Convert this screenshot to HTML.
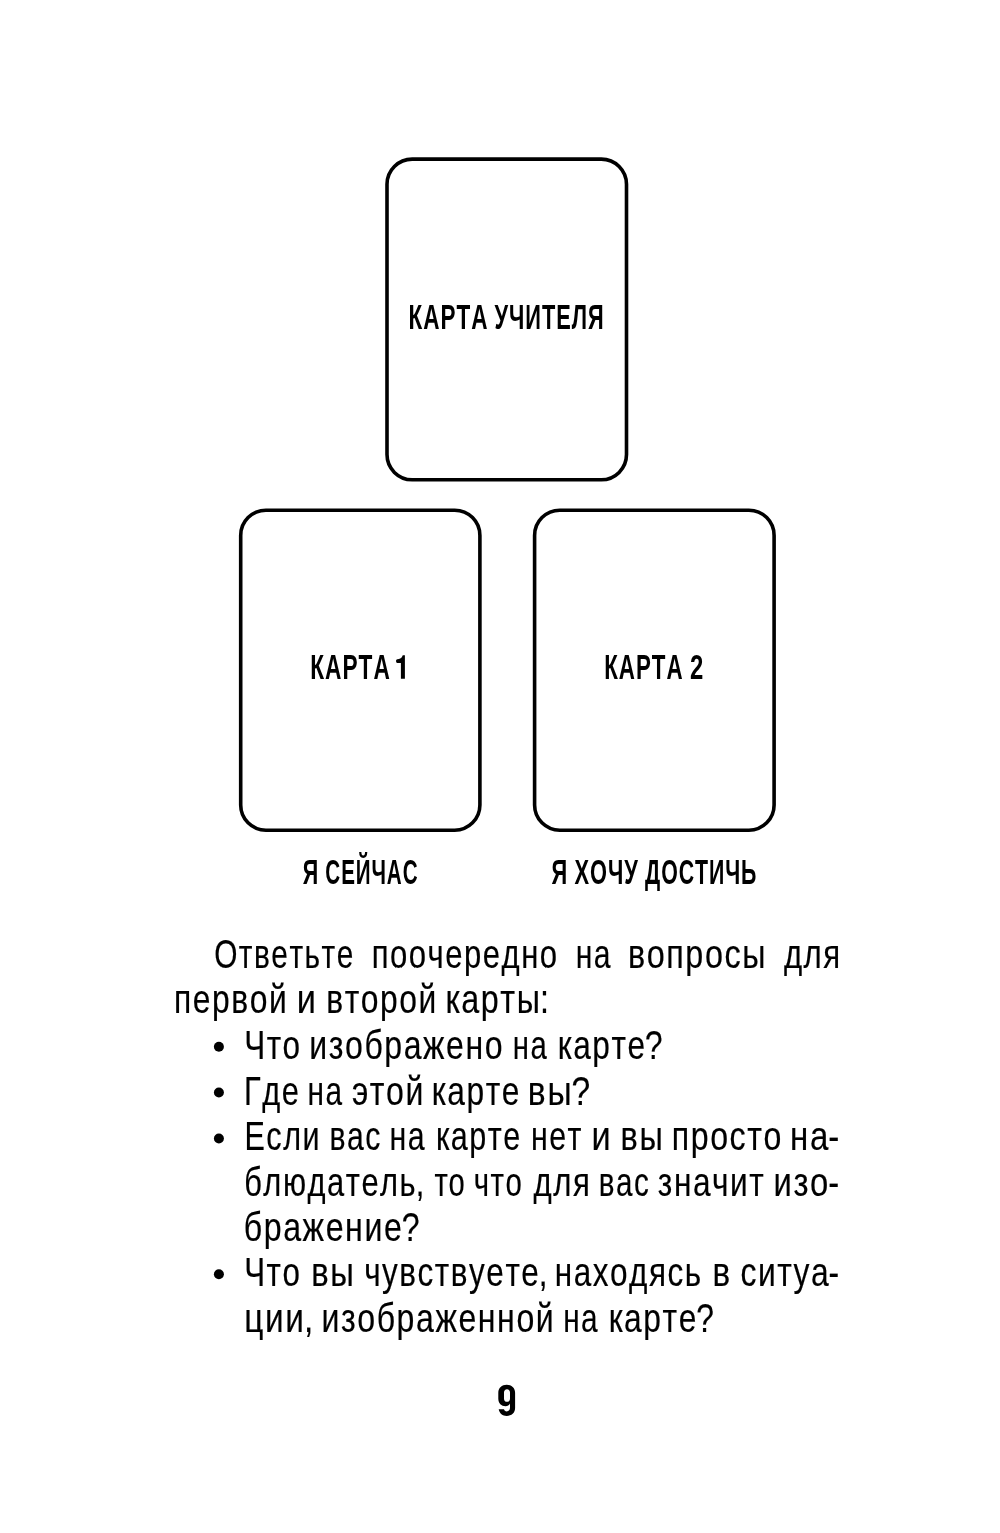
<!DOCTYPE html>
<html><head><meta charset="utf-8"><style>
html,body{margin:0;padding:0;background:#fff;}
body{width:1000px;height:1533px;overflow:hidden;}
svg{display:block;will-change:transform;}
text{font-family:"Liberation Sans",sans-serif;font-kerning:none;fill:#000;}
text.r{stroke:#000;stroke-width:0.2px;}
</style></head><body>
<svg width="1000" height="1533" viewBox="0 0 1000 1533">
<text class="r" transform="translate(214.19 967.50) scale(0.7369 1)" font-size="40.5" letter-spacing="2.000">Ответьте</text>
<text class="r" transform="translate(371.65 967.50) scale(0.7658 1)" font-size="40.5" letter-spacing="2.000">поочередно</text>
<text class="r" transform="translate(575.71 967.50) scale(0.7441 1)" font-size="40.5" letter-spacing="2.000">на</text>
<text class="r" transform="translate(627.96 967.50) scale(0.7975 1)" font-size="40.5" letter-spacing="2.000">вопросы</text>
<text class="r" transform="translate(783.90 967.50) scale(0.7687 1)" font-size="40.5" letter-spacing="2.000">для</text>
<text class="r" transform="translate(174.00 1013.30) scale(0.7846 1)" font-size="40.5" letter-spacing="2.000">первой</text>
<text class="r" transform="translate(296.82 1013.30) scale(0.8467 1)" font-size="40.5">и</text>
<text class="r" transform="translate(326.20 1013.30) scale(0.7843 1)" font-size="40.5" letter-spacing="2.000">второй</text>
<text class="r" transform="translate(445.52 1013.30) scale(0.7976 1)" font-size="40.5" letter-spacing="2.000">карт<tspan letter-spacing="0">ы:</tspan></text>
<text class="r" transform="translate(244.14 1058.70) scale(0.7768 1)" font-size="40.5" letter-spacing="2.000">Что</text>
<text class="r" transform="translate(309.28 1058.70) scale(0.7906 1)" font-size="40.5" letter-spacing="2.000">изображено</text>
<text class="r" transform="translate(512.87 1058.70) scale(0.7237 1)" font-size="40.5" letter-spacing="2.000">на</text>
<text class="r" transform="translate(557.87 1058.70) scale(0.7800 1)" font-size="40.5" letter-spacing="2.000">карт<tspan letter-spacing="0">е?</tspan></text>
<text class="r" transform="translate(244.07 1104.50) scale(0.7616 1)" font-size="40.5" letter-spacing="2.000">Где</text>
<text class="r" transform="translate(307.54 1104.50) scale(0.7350 1)" font-size="40.5" letter-spacing="2.000">на</text>
<text class="r" transform="translate(351.94 1104.50) scale(0.7911 1)" font-size="40.5" letter-spacing="2.000">этой</text>
<text class="r" transform="translate(431.86 1104.50) scale(0.7837 1)" font-size="40.5" letter-spacing="2.000">карте</text>
<text class="r" transform="translate(527.87 1104.50) scale(0.8301 1)" font-size="40.5" letter-spacing="2.000">в<tspan letter-spacing="0">ы?</tspan></text>
<text class="r" transform="translate(244.50 1150.40) scale(0.7538 1)" font-size="40.5" letter-spacing="2.000">Если</text>
<text class="r" transform="translate(329.41 1150.40) scale(0.7452 1)" font-size="40.5" letter-spacing="2.000">вас</text>
<text class="r" transform="translate(389.40 1150.40) scale(0.7486 1)" font-size="40.5" letter-spacing="2.000">на</text>
<text class="r" transform="translate(435.94 1150.40) scale(0.7548 1)" font-size="40.5" letter-spacing="2.000">карте</text>
<text class="r" transform="translate(530.89 1150.40) scale(0.7507 1)" font-size="40.5" letter-spacing="2.000">нет</text>
<text class="r" transform="translate(591.42 1150.40) scale(0.8467 1)" font-size="40.5">и</text>
<text class="r" transform="translate(620.55 1150.40) scale(0.8020 1)" font-size="40.5" letter-spacing="2.000">вы</text>
<text class="r" transform="translate(671.78 1150.40) scale(0.7923 1)" font-size="40.5" letter-spacing="2.000">просто</text>
<text class="r" transform="translate(790.01 1150.40) scale(0.8159 1)" font-size="40.5" letter-spacing="2.000">н<tspan letter-spacing="0">а-</tspan></text>
<text class="r" transform="translate(244.19 1195.70) scale(0.7617 1)" font-size="40.5" letter-spacing="2.000">блюдател<tspan letter-spacing="0">ь,</tspan></text>
<text class="r" transform="translate(434.50 1195.70) scale(0.7200 1)" font-size="40.5" letter-spacing="0.903">то</text>
<text class="r" transform="translate(473.75 1195.70) scale(0.7251 1)" font-size="40.5" letter-spacing="2.000">что</text>
<text class="r" transform="translate(533.60 1195.70) scale(0.7687 1)" font-size="40.5" letter-spacing="2.000">для</text>
<text class="r" transform="translate(598.85 1195.70) scale(0.7312 1)" font-size="40.5" letter-spacing="2.000">вас</text>
<text class="r" transform="translate(657.84 1195.70) scale(0.7802 1)" font-size="40.5" letter-spacing="2.000">значит</text>
<text class="r" transform="translate(773.53 1195.70) scale(0.8094 1)" font-size="40.5" letter-spacing="2.000">из<tspan letter-spacing="0">о-</tspan></text>
<text class="r" transform="translate(243.72 1241.20) scale(0.7930 1)" font-size="40.5" letter-spacing="2.000">бражени<tspan letter-spacing="0">е?</tspan></text>
<text class="r" transform="translate(244.16 1286.20) scale(0.7723 1)" font-size="40.5" letter-spacing="2.000">Что</text>
<text class="r" transform="translate(311.22 1286.20) scale(0.8105 1)" font-size="40.5" letter-spacing="2.000">вы</text>
<text class="r" transform="translate(364.13 1286.20) scale(0.7766 1)" font-size="40.5" letter-spacing="2.000">чувствует<tspan letter-spacing="0">е,</tspan></text>
<text class="r" transform="translate(554.82 1286.20) scale(0.7767 1)" font-size="40.5" letter-spacing="2.000">находясь</text>
<text class="r" transform="translate(712.40 1286.20) scale(0.8202 1)" font-size="40.5">в</text>
<text class="r" transform="translate(740.45 1286.20) scale(0.7858 1)" font-size="40.5" letter-spacing="2.000">ситу<tspan letter-spacing="0">а-</tspan></text>
<text class="r" transform="translate(244.18 1331.90) scale(0.8246 1)" font-size="40.5" letter-spacing="2.000">ци<tspan letter-spacing="0">и,</tspan></text>
<text class="r" transform="translate(321.48 1331.90) scale(0.7914 1)" font-size="40.5" letter-spacing="2.000">изображенной</text>
<text class="r" transform="translate(563.14 1331.90) scale(0.7350 1)" font-size="40.5" letter-spacing="2.000">на</text>
<text class="r" transform="translate(608.66 1331.90) scale(0.7838 1)" font-size="40.5" letter-spacing="2.000">карт<tspan letter-spacing="0">е?</tspan></text>
<circle cx="218.9" cy="1046.75" r="5"/>
<circle cx="218.9" cy="1092.55" r="5"/>
<circle cx="218.9" cy="1138.45" r="5"/>
<circle cx="218.9" cy="1274.25" r="5"/>
<text font-weight="bold" transform="translate(408.59 329.00) scale(0.6504 1)" font-size="34.6" letter-spacing="1.500">КАРТА</text>
<text font-weight="bold" transform="translate(494.59 329.00) scale(0.6302 1)" font-size="34.6" letter-spacing="1.500">УЧИТЕЛЯ</text>
<text font-weight="bold" transform="translate(310.28 678.90) scale(0.6555 1)" font-size="34.6" letter-spacing="1.500">КАРТА</text>
<text font-weight="bold" transform="translate(604.20 678.90) scale(0.6462 1)" font-size="34.6" letter-spacing="1.500">КАРТА</text>
<text font-weight="bold" transform="translate(689.97 678.90) scale(0.6904 1)" font-size="34.6">2</text>
<text font-weight="bold" transform="translate(302.73 884.00) scale(0.6238 1)" font-size="34.6">Я</text>
<text font-weight="bold" transform="translate(325.35 884.00) scale(0.5960 1)" font-size="34.6" letter-spacing="1.500">СЕЙЧАС</text>
<text font-weight="bold" transform="translate(551.43 884.00) scale(0.6329 1)" font-size="34.6">Я</text>
<text font-weight="bold" transform="translate(574.51 884.00) scale(0.6308 1)" font-size="34.6" letter-spacing="1.500">ХОЧУ</text>
<text font-weight="bold" transform="translate(645.01 884.00) scale(0.6166 1)" font-size="34.6" letter-spacing="1.500">ДОСТИЧЬ</text>
<path fill-rule="evenodd" d="M506.7 1384.7C511.5 1384.7 515.1 1387.7 515.1 1392.7L515.1 1408C515.1 1413 511.5 1415.9 506.7 1415.9C502.6 1415.9 499.5 1413.6 498.7 1409.3L504 1409.3C504.4 1410.7 505.3 1411.4 506.7 1411.4C508.8 1411.4 510 1410.1 510 1407.6L510 1403.6C509 1405.4 507.6 1406.3 505.6 1406.3C501.3 1406.3 498.3 1403.4 498.3 1398.6L498.3 1392.7C498.3 1387.7 501.9 1384.7 506.7 1384.7ZM507 1389.2C505.2 1389.2 504 1390.5 504 1392.6L504 1398.4C504 1400.5 505.2 1401.8 507 1401.8C508.8 1401.8 510 1400.5 510 1398.4L510 1392.6C510 1390.5 508.8 1389.2 507 1389.2Z"/>
<path d="M403 655.3L404.9 655.3L404.9 678.8L400.9 678.8L400.9 662.9L397.3 662.9C396.6 662.9 396.1 662.4 396.1 661.6L396.1 660.5C396.1 659.8 396.6 659.3 397.3 659.2C399.5 658.9 401.3 658.3 402.2 656.4C402.5 655.7 402.7 655.3 403 655.3Z"/>
<rect x="387.00" y="159.10" width="239.50" height="320.70" rx="25.20" fill="none" stroke="#000" stroke-width="3.6"/>
<rect x="240.70" y="510.20" width="239.20" height="320.00" rx="25.20" fill="none" stroke="#000" stroke-width="3.6"/>
<rect x="534.60" y="510.20" width="239.50" height="320.00" rx="25.20" fill="none" stroke="#000" stroke-width="3.6"/>
</svg>
</body></html>
